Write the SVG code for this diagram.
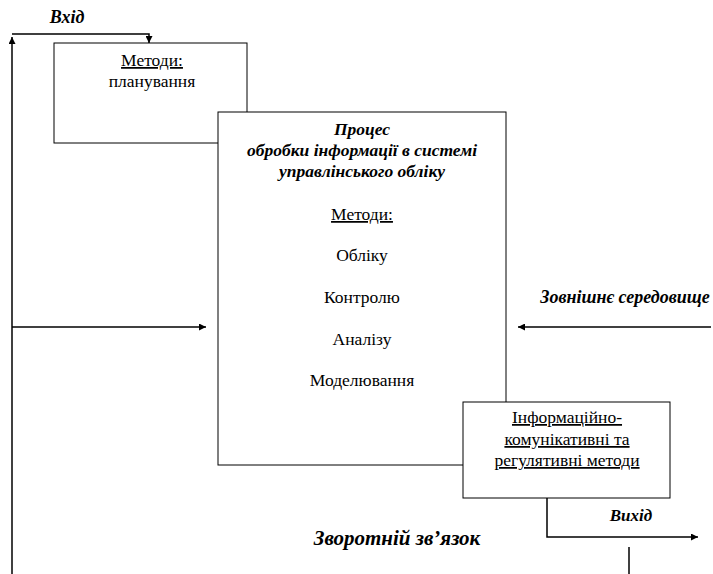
<svg xmlns="http://www.w3.org/2000/svg" width="713" height="574" viewBox="0 0 713 574">
<style>
.t{font-family:"Liberation Serif","Times New Roman",serif;font-size:17.5px;fill:#000;text-anchor:middle}
.b{font-weight:bold;font-style:italic}
.u{text-decoration:underline}
.box{fill:#fff;stroke:#000;stroke-width:1}
.ln{fill:none;stroke:#000;stroke-width:1.5}
</style>
<defs>
<marker id="ah" viewBox="0 0 10 10" refX="10" refY="5" markerWidth="9" markerHeight="7" markerUnits="userSpaceOnUse" orient="auto">
<path d="M0,0 L10,5 L0,10 Z" fill="#000"/>
</marker>
</defs>
<g id="planning">
<rect class="box" x="54" y="43" width="193" height="100"/>
<text class="t u" x="152" y="66">Методи:</text>
<text class="t" x="152" y="87">планування</text>
</g>
<g id="process">
<rect class="box" x="218" y="112" width="288" height="353"/>
<text class="t b" x="362" y="135">Процес</text>
<text class="t b" x="362" y="156">обробки інформації в системі</text>
<text class="t b" x="362" y="177">управлінського обліку</text>
<text class="t u" x="362" y="220">Методи:</text>
<text class="t" x="362" y="261">Обліку</text>
<text class="t" x="362" y="303">Контролю</text>
<text class="t" x="362" y="345">Аналізу</text>
<text class="t" x="362" y="386">Моделювання</text>
</g>
<g id="info">
<rect class="box" x="463" y="402" width="207" height="96"/>
<text class="t u" x="567" y="423">Інформаційно-</text>
<text class="t u" x="567" y="445">комунікативні та</text>
<text class="t u" x="567" y="466">регулятивні методи</text>
</g>
<g id="labels">
<text class="t b" x="67" y="23" style="font-size:18px">Вхід</text>
<text class="t b" x="625" y="303" style="font-size:18px">Зовнішнє середовище</text>
<text class="t b" x="631" y="521" style="font-size:17px">Вихід</text>
<text class="t b" x="397" y="545" style="font-size:21px">Зворотній зв’язок</text>
</g>
<g id="connectors">
<path class="ln" d="M12,574 V37" marker-end="url(#ah)"/>
<path class="ln" d="M12,34 H149 V43" marker-end="url(#ah)"/>
<path class="ln" d="M12,327 H206" marker-end="url(#ah)"/>
<path class="ln" d="M711,327 H518" marker-end="url(#ah)"/>
<path class="ln" d="M547,498 V537 H698" marker-end="url(#ah)"/>
<path class="ln" d="M629,547 V574"/>
</g>
</svg>
